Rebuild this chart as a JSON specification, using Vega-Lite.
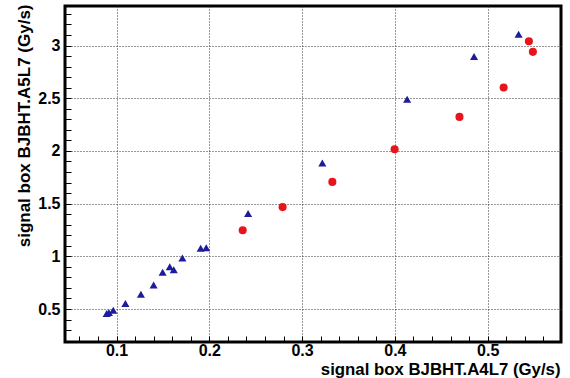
{
  "$schema": "https://vega.github.io/schema/vega-lite/v6.json",
  "width": 496,
  "height": 336,
  "autosize": {"type": "none"},
  "padding": {"left": 65, "top": 6, "right": 9, "bottom": 36},
  "background": "white",
  "config": {
    "view": {"stroke": "#000", "strokeWidth": 3},
    "font": "Liberation Sans"
  },
  "data": {
    "values": [
      {"x": 0.0894, "y": 0.457, "s": "A"},
      {"x": 0.0918, "y": 0.467, "s": "A"},
      {"x": 0.0965, "y": 0.489, "s": "A"},
      {"x": 0.1096, "y": 0.552, "s": "A"},
      {"x": 0.1263, "y": 0.641, "s": "A"},
      {"x": 0.140, "y": 0.727, "s": "A"},
      {"x": 0.1497, "y": 0.848, "s": "A"},
      {"x": 0.1574, "y": 0.901, "s": "A"},
      {"x": 0.1617, "y": 0.872, "s": "A"},
      {"x": 0.171, "y": 0.984, "s": "A"},
      {"x": 0.1907, "y": 1.076, "s": "A"},
      {"x": 0.1967, "y": 1.082, "s": "A"},
      {"x": 0.2418, "y": 1.406, "s": "A"},
      {"x": 0.3218, "y": 1.886, "s": "A"},
      {"x": 0.4132, "y": 2.49, "s": "A"},
      {"x": 0.4853, "y": 2.896, "s": "A"},
      {"x": 0.5333, "y": 3.107, "s": "A"},
      {"x": 0.236, "y": 1.248, "s": "B"},
      {"x": 0.279, "y": 1.467, "s": "B"},
      {"x": 0.3326, "y": 1.706, "s": "B"},
      {"x": 0.3997, "y": 2.015, "s": "B"},
      {"x": 0.4696, "y": 2.323, "s": "B"},
      {"x": 0.5172, "y": 2.601, "s": "B"},
      {"x": 0.5444, "y": 3.04, "s": "B"},
      {"x": 0.5487, "y": 2.94, "s": "B"}
    ]
  },
  "mark": {"type": "point", "filled": true, "opacity": 1},
  "encoding": {
    "x": {
      "field": "x",
      "type": "quantitative",
      "scale": {"domain": [0.0445, 0.579], "nice": false, "zero": false},
      "axis": {
        "title": "signal box BJBHT.A4L7 (Gy/s)",
        "values": [0.06, 0.08, 0.1, 0.12, 0.14, 0.16, 0.18, 0.2, 0.22, 0.24, 0.26, 0.28, 0.3, 0.32, 0.34, 0.36, 0.38, 0.4, 0.42, 0.44, 0.46, 0.48, 0.5, 0.52, 0.54, 0.56],
        "domain": false,
        "grid": true,
        "gridColor": "#333",
        "gridDash": [1, 2],
        "gridWidth": 1,
        "gridOpacity": {"condition": {"test": "abs(datum.value*10-round(datum.value*10))<0.000001", "value": 1}, "value": 0},
        "tickColor": "#000",
        "tickSize": -6,
        "tickWidth": 1,
        "labelExpr": "abs(datum.value*10-round(datum.value*10))<0.000001 ? format(datum.value,'.1~f') : ''",
        "labelFont": "Liberation Sans",
        "labelFontWeight": "bold",
        "labelFontSize": 16,
        "labelColor": "#000",
        "labelPadding": 6,
        "labelOverlap": false,
        "labelFlush": false,
        "labelBound": false,
        "titleFont": "Liberation Sans",
        "titleFontSize": 16.8,
        "titleFontWeight": "bold",
        "titleColor": "#000",
        "titleX": 495,
        "titleY": 32,
        "titleAlign": "right",
        "titleBaseline": "alphabetic"
      }
    },
    "y": {
      "field": "y",
      "type": "quantitative",
      "scale": {"domain": [0.187, 3.375], "nice": false, "zero": false},
      "axis": {
        "title": "signal box BJBHT.A5L7 (Gy/s)",
        "values": [0.2, 0.3, 0.4, 0.5, 0.6, 0.7, 0.8, 0.9, 1.0, 1.1, 1.2, 1.3, 1.4, 1.5, 1.6, 1.7, 1.8, 1.9, 2.0, 2.1, 2.2, 2.3, 2.4, 2.5, 2.6, 2.7, 2.8, 2.9, 3.0, 3.1, 3.2, 3.3],
        "domain": false,
        "grid": true,
        "gridColor": "#333",
        "gridDash": [1, 2],
        "gridWidth": 1,
        "gridOpacity": {"condition": {"test": "abs(datum.value*2-round(datum.value*2))<0.000001", "value": 1}, "value": 0},
        "tickColor": "#000",
        "tickSize": -6,
        "tickWidth": 1,
        "labelExpr": "abs(datum.value*2-round(datum.value*2))<0.000001 ? format(datum.value,'.1~f') : ''",
        "labelFont": "Liberation Sans",
        "labelFontWeight": "bold",
        "labelFontSize": 16,
        "labelColor": "#000",
        "labelPadding": 11,
        "labelOverlap": false,
        "labelFlush": false,
        "labelBound": false,
        "titleFont": "Liberation Sans",
        "titleFontSize": 17,
        "titleFontWeight": "bold",
        "titleColor": "#000",
        "titleAngle": -90,
        "titleX": -36,
        "titleY": -2,
        "titleAlign": "right",
        "titleBaseline": "alphabetic"
      }
    },
    "shape": {"field": "s", "type": "nominal", "scale": {"domain": ["A", "B"], "range": ["triangle-up", "circle"]}, "legend": null},
    "color": {"field": "s", "type": "nominal", "scale": {"domain": ["A", "B"], "range": ["#1c1c9c", "#e8141c"]}, "legend": null},
    "size": {"value": 65}
  }
}
